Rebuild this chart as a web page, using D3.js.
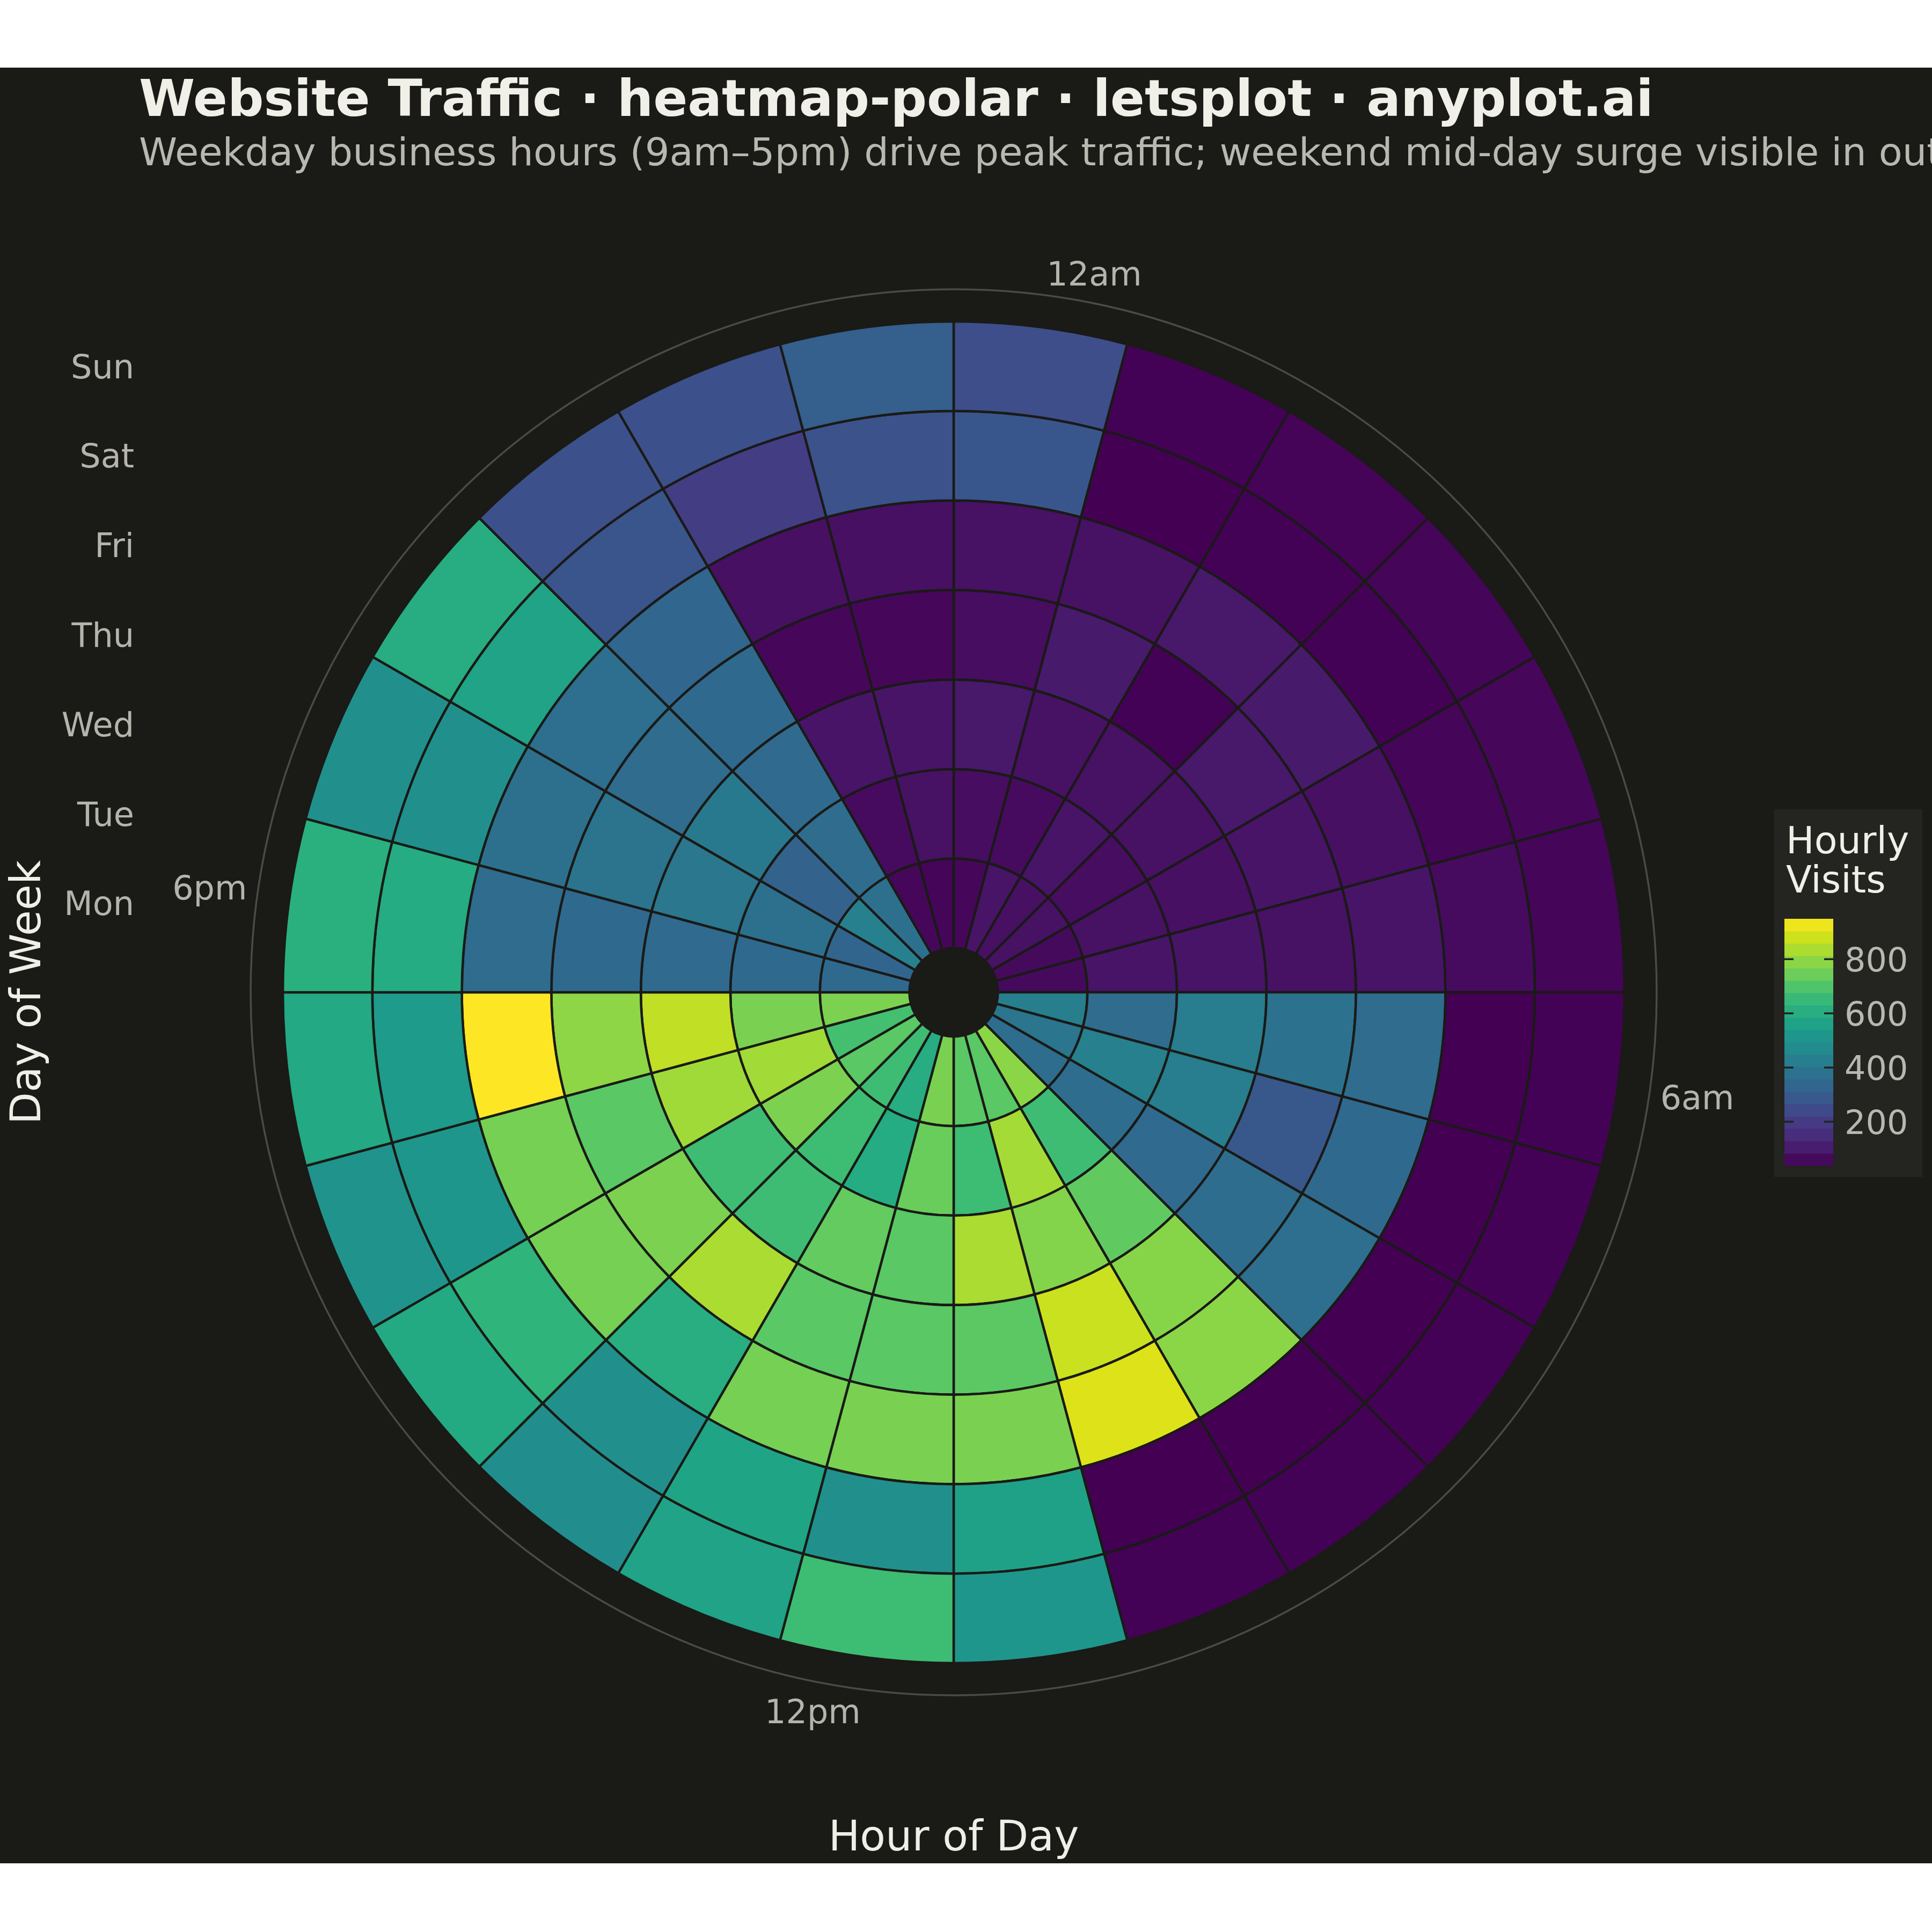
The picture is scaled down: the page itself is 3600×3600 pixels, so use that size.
<!DOCTYPE html>
<html>
<head>
<meta charset="utf-8">
<script src="https://cdn.jsdelivr.net/npm/d3@7"></script>
<style>
  html, body { margin: 0; padding: 0; background: #ffffff; }
  svg { display: block; font-family: "DejaVu Sans", sans-serif; }
</style>
</head>
<body>
<div id="chart"></div>
<script>
// ---- data ----
var days = ["Mon", "Tue", "Wed", "Thu", "Fri", "Sat", "Sun"];
var hours = d3.range(24);
var hourBreaks = [0, 6, 12, 18];
var hourBreakLabels = ["12am", "6am", "12pm", "6pm"];
var legendTicks = [200, 400, 600, 800];

// hourly visits, hour 0 .. 23
var visitsMon = [53, 85, 75, 80, 60, 60, 428, 392, 360, 790, 716, 716, 766, 606, 665, 716, 675, 770, 345, 330, 430, 370, 55, 50];
var visitsTue = [67, 65, 85, 70, 80, 85, 355, 430, 360, 667, 826, 661, 740, 600, 661, 770, 822, 766, 345, 370, 320, 355, 65, 80];
var visitsWed = [95, 80, 80, 80, 75, 85, 420, 420, 350, 725, 780, 833, 716, 730, 667, 665, 820, 862, 350, 400, 405, 350, 85, 85];
var visitsThu = [70, 100, 45, 95, 85, 80, 380, 285, 360, 785, 876, 720, 716, 716, 833, 770, 716, 795, 345, 385, 355, 345, 55, 55];
var visitsFri = [80, 80, 95, 100, 75, 85, 355, 345, 365, 790, 900, 766, 766, 758, 608, 757, 757, 949, 355, 370, 365, 335, 75, 75];
var visitsSat = [282, 38, 42, 42, 52, 65, 40, 40, 40, 40, 38, 555, 492, 570, 490, 630, 515, 535, 600, 490, 565, 275, 200, 268];
var visitsSun = [255, 45, 48, 50, 55, 50, 45, 45, 45, 45, 42, 515, 661, 565, 480, 590, 505, 588, 615, 492, 606, 262, 262, 309];

var visitsByDay = [visitsMon, visitsTue, visitsWed, visitsThu, visitsFri, visitsSat, visitsSun];

var cells = [];
days.forEach(function(day, i) {
  hours.forEach(function(h) {
    cells.push({ day: day, hour: h, visits: visitsByDay[i][h] });
  });
});

// ---- layout ----
var W = 3600, H = 3600;
var cx = 1777, cy = 1849;
var holeR = 82.5, outerR = 1250, gridR = 1310;

var svg = d3.select("#chart").append("svg")
  .attr("width", W)
  .attr("height", H);

svg.append("rect")
  .attr("x", 0).attr("y", 126)
  .attr("width", W).attr("height", 3346)
  .attr("fill", "#1a1a16");

var x = d3.scaleBand().domain(hours).range([0, 2 * Math.PI]);
var y = d3.scaleBand().domain(days).range([holeR, outerR]);
var color = d3.scaleSequential(d3.interpolateViridis)
  .domain(d3.extent(cells, function(d) { return d.visits; }));

var arc = d3.arc()
  .innerRadius(function(d) { return y(d.day); })
  .outerRadius(function(d) { return y(d.day) + y.bandwidth(); })
  .startAngle(function(d) { return x(d.hour); })
  .endAngle(function(d) { return x(d.hour) + x.bandwidth(); });

var plot = svg.append("g").attr("transform", "translate(" + cx + "," + cy + ")");

plot.append("circle")
  .attr("r", gridR)
  .attr("fill", "none")
  .attr("stroke", "#4a4a46")
  .attr("stroke-width", 3.5);

plot.selectAll("path.cell")
  .data(cells)
  .enter()
  .append("path")
  .attr("class", "cell")
  .attr("d", arc)
  .attr("fill", function(d) { return color(d.visits); })
  .attr("stroke", "#1a1a16")
  .attr("stroke-width", 4.5);

// hour labels round the circle
var labelR = 1328;
plot.selectAll("text.hour")
  .data(hourBreaks)
  .enter()
  .append("text")
  .attr("class", "hour")
  .attr("x", function(h) { return labelR * Math.sin(x(h) + x.bandwidth() / 2); })
  .attr("y", function(h) {
    var a = x(h) + x.bandwidth() / 2;
    var py = -labelR * Math.cos(a);
    return Math.cos(a) > 0 ? py : py + 45;
  })
  .attr("text-anchor", function(h) {
    var s = Math.sin(x(h) + x.bandwidth() / 2);
    return s > 0.05 ? "start" : (s < -0.05 ? "end" : "middle");
  })
  .attr("font-size", 62)
  .attr("fill", "#b4b4ac")
  .text(function(h, i) { return hourBreakLabels[i]; });

// day labels on the left
svg.selectAll("text.day")
  .data(days)
  .enter()
  .append("text")
  .attr("class", "day")
  .attr("x", 250)
  .attr("y", function(d) { return cy - (y(d) + y.bandwidth() / 2); })
  .attr("dy", "0.36em")
  .attr("text-anchor", "end")
  .attr("font-size", 62)
  .attr("fill", "#b4b4ac")
  .text(function(d) { return d; });

// axis titles
svg.append("text")
  .attr("transform", "translate(75," + cy + ") rotate(-90)")
  .attr("text-anchor", "middle")
  .attr("font-size", 78)
  .attr("fill", "#efeee7")
  .text("Day of Week");

svg.append("text")
  .attr("x", cx).attr("y", 3448)
  .attr("text-anchor", "middle")
  .attr("font-size", 78)
  .attr("fill", "#efeee7")
  .text("Hour of Day");

// titles
svg.append("text")
  .attr("x", 259).attr("y", 216)
  .attr("font-size", 94.5)
  .attr("font-weight", "bold")
  .attr("fill", "#f0efe8")
  .text("Website Traffic \u00b7 heatmap-polar \u00b7 letsplot \u00b7 anyplot.ai");

svg.append("text")
  .attr("x", 259).attr("y", 308)
  .attr("font-size", 72)
  .attr("fill", "#b8b8b0")
  .text("Weekday business hours (9am\u20135pm) drive peak traffic; weekend mid-day surge visible in outer rings");

// ---- legend ----
var legend = svg.append("g");
legend.append("rect")
  .attr("x", 3306).attr("y", 1508)
  .attr("width", 276).attr("height", 685)
  .attr("fill", "#242420");

legend.append("text")
  .attr("x", 3328).attr("y", 1590)
  .attr("font-size", 70)
  .attr("fill", "#f0efe8")
  .text("Hourly");
legend.append("text")
  .attr("x", 3328).attr("y", 1663)
  .attr("font-size", 70)
  .attr("fill", "#f0efe8")
  .text("Visits");

var barX = 3325, barW = 91, barTop = 1712, barBottom = 2172;
var ly = d3.scaleLinear().domain(color.domain()).range([barBottom, barTop]);
var nbin = 20;
var dom = color.domain();
var bins = d3.range(nbin).map(function(i) {
  return [dom[0] + (dom[1] - dom[0]) * i / nbin, dom[0] + (dom[1] - dom[0]) * (i + 1) / nbin];
});

legend.selectAll("rect.bin")
  .data(bins)
  .enter()
  .append("rect")
  .attr("class", "bin")
  .attr("x", barX)
  .attr("y", function(b) { return ly(b[1]); })
  .attr("width", barW)
  .attr("height", function(b) { return ly(b[0]) - ly(b[1]) + 0.5; })
  .attr("fill", function(b) { return color((b[0] + b[1]) / 2); });

legendTicks.forEach(function(t) {
  legend.append("line")
    .attr("x1", barX).attr("x2", barX + 17)
    .attr("y1", ly(t)).attr("y2", ly(t))
    .attr("stroke", "#222220").attr("stroke-width", 3.5);
  legend.append("line")
    .attr("x1", barX + barW - 17).attr("x2", barX + barW)
    .attr("y1", ly(t)).attr("y2", ly(t))
    .attr("stroke", "#222220").attr("stroke-width", 3.5);
});

legend.selectAll("text.tick")
  .data(legendTicks)
  .enter()
  .append("text")
  .attr("class", "tick")
  .attr("x", 3437)
  .attr("y", function(t) { return ly(t); })
  .attr("dy", "0.36em")
  .attr("font-size", 62)
  .attr("fill", "#b8b8b0")
  .text(function(t) { return t; });
</script>
</body>
</html>
